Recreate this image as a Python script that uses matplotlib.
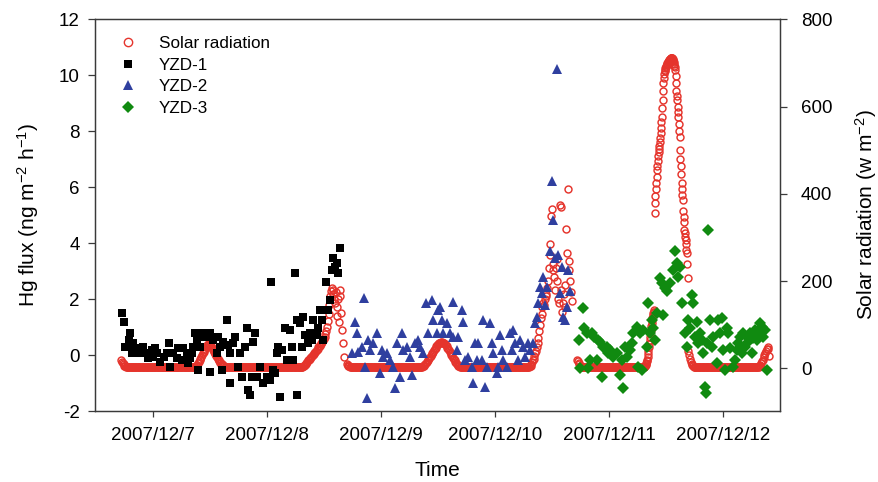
import numpy as np
import matplotlib
matplotlib.use("Agg")
import matplotlib.pyplot as plt
from matplotlib.lines import Line2D

plt.rcParams['font.family'] = ['Liberation Sans', 'DejaVu Sans']
plt.rcParams['mathtext.fontset'] = 'custom'
plt.rcParams['mathtext.rm'] = 'Liberation Sans'
plt.rcParams['mathtext.it'] = 'Liberation Sans:italic'
plt.rcParams['mathtext.bf'] = 'Liberation Sans:bold'
plt.rcParams['mathtext.default'] = 'regular'
plt.rcParams['axes.unicode_minus'] = False

# ---------------- data (time in days after 2007/12/7 00:00) ----------------
date_labels = ["2007/12/7", "2007/12/8", "2007/12/9", "2007/12/10", "2007/12/11", "2007/12/12"]

# Solar radiation (W m-2): measured segments = start day, sampling interval (min), values
sr_a_start, sr_a_step = -0.28, 10
sr_a = [18, 15, 12, 9, 6, 5, 4, 4,
        4, 4, 4, 4, 4, 4, 4, 4, 4, 4, 4, 4, 4, 4, 4, 4, 4, 4, 4, 4,
        4, 4, 4, 4, 4, 4, 4, 4, 4, 4, 4, 4, 4, 4, 4, 4, 4, 4, 4, 4,
        4, 4, 4, 4, 4, 4, 4, 4, 4, 4, 4, 4, 4, 4, 4, 4, 4, 4, 4, 4,
        4, 4, 4, 4, 4, 4, 4, 4, 4, 4, 4, 4, 4, 4, 4, 4, 4, 4, 4, 4,
        4, 4, 4, 4, 4, 4,
        5, 6, 8, 11, 15, 18, 22, 26, 30, 34, 38, 42, 45, 48, 52, 54, 55, 55, 54, 52,
        50, 46, 42, 38, 35, 32, 28, 25, 22, 19, 16, 13, 11, 9, 7, 6, 5, 4, 4, 4,
        4, 4, 4, 4, 4, 4, 4, 4, 4, 4, 4, 4, 4, 4, 4, 4, 4, 4, 4, 4,
        4, 4, 4, 4, 4, 4, 4, 4, 4, 4, 4, 4, 4, 4, 4, 4, 4, 4, 4, 4,
        4, 4, 4, 4, 4, 4, 4, 4, 4, 4, 4, 4, 4, 4, 4, 4, 4, 4, 4, 4,
        4, 4, 4, 4, 4, 4, 4, 4, 4, 4, 4, 4, 4, 4, 4, 4, 4, 4, 4, 4,
        4, 4, 4, 4, 4, 4, 4, 4, 4, 4, 4, 4, 4, 4,
        4, 4, 5, 6, 8, 10, 13, 15, 18, 20, 22, 24, 26, 28, 30, 32, 35, 38, 40, 42,
        45, 48, 50, 52, 55, 58, 60, 64, 68, 72, 78, 85, 95, 108, 125, 145, 165, 178,
        185, 180, 170, 160, 150, 175, 140, 120, 160, 105, 180, 165, 126, 87, 57, 25]

sr_b_start, sr_b_step = 1.70, 10
sr_b = [10, 8, 6, 5, 4,
        4, 4, 4, 4, 4, 4, 4, 4, 4, 4, 4, 4, 4, 4, 4, 4, 4, 4, 4, 4,
        4, 4, 4, 4, 4, 4, 4, 4, 4, 4, 4, 4, 4, 4, 4, 4, 4, 4, 4, 4,
        4, 4, 4, 4, 4, 4, 4, 4, 4, 4, 4, 4, 4, 4, 4, 4, 4, 4, 4, 4,
        4, 4, 4, 4, 4, 4, 4, 4, 4, 4, 4, 4, 4, 4, 4, 4, 4, 4, 4, 4,
        4, 4, 4, 4, 4, 4, 4, 4, 4, 4, 4,
        5, 6, 8, 10, 12, 15, 18, 20, 23, 26, 29, 32, 35, 38, 41, 44, 47, 50, 53, 55,
        57, 58, 59, 60, 60, 59, 58, 57, 55, 53, 50, 47, 44, 41, 38, 34, 30, 27, 24, 21,
        18, 15, 12, 10, 8, 6, 5, 4,
        4, 4, 4, 4, 4, 4, 4, 4, 4, 4, 4, 4, 4, 4, 4, 4, 4, 4, 4, 4,
        4, 4, 4, 4, 4, 4, 4, 4, 4, 4, 4, 4, 4, 4, 4, 4, 4, 4, 4, 4,
        4, 4, 4, 4, 4, 4, 4, 4, 4, 4, 4, 4, 4, 4, 4, 4, 4, 4, 4, 4,
        4, 4, 4, 4, 4, 4, 4, 4, 4, 4, 4, 4, 4, 4, 4, 4, 4, 4, 4, 4,
        4, 4, 4, 4, 4, 4,
        4, 5, 6, 10, 14, 18, 22, 28, 34, 40, 48, 58, 70, 85, 100, 115, 125, 140, 150,
        145, 160, 170, 165, 185, 200, 230, 285, 260, 350, 365, 240, 225, 210, 180, 230,
        250, 200, 160, 150, 375, 370, 180, 130, 150, 170, 190, 140, 320, 265, 410, 245,
        225, 200, 175, 155]

sr_c_start, sr_c_step = 3.72, 10
sr_c = [20, 16, 12, 9, 6, 5, 4,
        4, 4, 4, 4, 4, 4, 4, 4, 4, 4, 4, 4, 4, 4, 4, 4, 4, 4, 4, 4,
        4, 4, 4, 4, 4, 4, 4, 4, 4, 4, 4, 4, 4, 4, 4, 4, 4, 4, 4, 4,
        4, 4, 4, 4, 4, 4, 4, 4, 4, 4, 4, 4, 4, 4, 4, 4, 4, 4, 4, 4,
        4, 4, 4, 4, 4, 4, 4, 4, 4, 4, 4, 4, 4, 4, 4, 4]

sr_p_start, sr_p_step = 4.30, 5
sr_p = [4, 4, 4, 4, 5, 6, 7, 9, 12, 16, 20, 26, 33, 40, 48, 56, 64, 72, 80, 88,
        96, 104, 110, 116, 122, 126, 130, 134, 128,
        356, 380, 395, 410, 425, 439, 455, 463, 475, 486, 495, 503, 509, 518, 528, 540,
        552, 565, 577, 597, 616, 635, 655, 665, 675, 682, 685, 688, 690, 693, 696, 698,
        700, 702, 703, 705, 706, 708, 709, 710, 711, 712, 712, 712, 711, 710, 708, 705,
        702, 698, 694, 692, 685, 670, 655, 636, 625, 616, 600, 588, 577, 560, 545, 530,
        501, 480, 463, 445, 425, 410, 398, 386, 360, 347, 335, 317, 310, 302, 294, 285,
        272, 264, 240, 207]

sr_d_start, sr_d_step = 4.696, 10
sr_d = [40, 30, 22, 15, 10, 7, 5, 4,
        4, 4, 4, 4, 4, 4, 4, 4, 4, 4, 4, 4, 4, 4, 4, 4, 4, 4, 4, 4,
        4, 4, 4, 4, 4, 4, 4, 4, 4, 4, 4, 4, 4, 4, 4, 4, 4, 4, 4, 4,
        4, 4, 4, 4, 4, 4, 4, 4, 4, 4, 4, 4, 4, 4, 4, 4, 4, 4, 4, 4,
        4, 4, 4, 4, 4, 4, 4, 4, 4, 4, 4, 4, 4, 4, 4, 4, 4, 4, 4, 4,
        4, 4,
        5, 8, 12, 16, 20, 25, 30, 35, 40, 44, 48, 45, 28]

# YZD-1 Hg flux (ng m-2 h-1)
yzd1_t = [-0.269, -0.254, -0.246, -0.216, -0.202, -0.187, -0.178, -0.173, -0.143, -0.114,
          -0.099, -0.085, -0.056, -0.041, -0.012, 0.003, 0.018, 0.032, 0.061, 0.091,
          0.120, 0.135, 0.149, 0.178, 0.208, 0.222, 0.251, 0.266, 0.295, 0.310,
          0.325, 0.339, 0.354, 0.368, 0.383, 0.398, 0.412, 0.427, 0.456, 0.471,
          0.500, 0.500, 0.529, 0.558, 0.573, 0.588, 0.602, 0.617, 0.646, 0.661,
          0.675, 0.675, 0.705, 0.719, 0.749, 0.763, 0.778, 0.807, 0.822, 0.836,
          0.851, 0.865, 0.880, 0.895, 0.909, 0.939, 0.968, 0.997, 1.026, 1.032,
          1.056, 1.070, 1.085, 1.099, 1.114, 1.129, 1.158, 1.173, 1.202, 1.216,
          1.231, 1.246, 1.260, 1.260, 1.289, 1.304, 1.319, 1.333, 1.363, 1.377,
          1.392, 1.406, 1.421, 1.436, 1.450, 1.465, 1.480, 1.494, 1.509, 1.518,
          1.538, 1.553, 1.567, 1.582, 1.596, 1.611, 1.626, 1.640]
yzd1_v = [1.49, 1.19, 0.30, 0.54, 0.78, 0.06, 0.42, 0.18, 0.24, 0.06,
          0.24, 0.30, 0.06, -0.12, 0.18, -0.06, 0.24, 0.06, -0.24, -0.06,
          0.06, 0.42, -0.42, 0.06, -0.12, 0.24, -0.18, 0.24, 0.06, -0.30,
          -0.12, 0.06, 0.30, 0.78, 0.54, -0.54, 0.30, 0.78, 0.66, 0.78,
          0.78, -0.60, 0.54, 0.06, 0.66, 0.30, -0.54, 0.48, 1.25, 0.36,
          0.06, -1.01, 0.42, 0.66, -0.42, 0.06, -0.78, 0.30, 0.95, -1.25,
          -1.43, -0.78, 0.48, 0.78, -0.78, -0.42, -1.01, -0.78, -0.89, 2.62,
          -0.54, -0.66, 0.06, 0.30, -1.49, 0.18, 0.95, -0.18, 0.89, 0.30,
          -0.18, 2.92, -1.43, 1.25, 1.13, 0.30, 1.37, 0.72, 0.42, 0.78,
          0.54, 1.25, 0.72, 0.78, 0.95, 1.61, 1.25, 0.54, 1.61, 2.62,
          1.61, 1.97, 3.04, 3.46, 3.16, 3.28, 2.92, 3.82]

# YZD-2 Hg flux
yzd2_t = [1.743, 1.772, 1.787, 1.801, 1.830, 1.851, 1.860, 1.874, 1.889, 1.904,
          1.933, 1.962, 1.991, 2.006, 2.020, 2.050, 2.079, 2.108, 2.123, 2.137,
          2.167, 2.181, 2.196, 2.225, 2.254, 2.269, 2.298, 2.327, 2.342, 2.371,
          2.395, 2.415, 2.444, 2.459, 2.488, 2.503, 2.518, 2.532, 2.547, 2.576,
          2.605, 2.635, 2.635, 2.664, 2.678, 2.708, 2.722, 2.737, 2.766, 2.795,
          2.810, 2.825, 2.839, 2.854, 2.883, 2.898, 2.912, 2.927, 2.956, 2.971,
          2.985, 3.015, 3.029, 3.044, 3.058, 3.073, 3.102, 3.132, 3.146, 3.161,
          3.175, 3.205, 3.219, 3.249, 3.263, 3.292, 3.307, 3.336, 3.351, 3.365,
          3.380, 3.395, 3.409, 3.424, 3.439, 3.453, 3.482, 3.497, 3.512, 3.526,
          3.541, 3.556, 3.570, 3.585, 3.599, 3.614, 3.629, 3.643, 3.658]
yzd2_v = [0.06, 1.19, 0.78, 0.12, 0.30, 2.03, -0.42, -1.55, 0.54, 0.18,
          0.42, 0.78, -0.66, 0.18, -0.06, 0.06, -0.18, -0.42, -1.19, 0.42,
          -0.78, 0.78, 0.18, 0.30, -0.06, -0.72, 0.42, 0.54, 0.30, 0.06,
          1.85, 0.78, 1.97, 1.25, 0.78, 1.61, 1.73, 1.25, 0.78, 1.13,
          0.78, 0.66, 1.91, 0.18, 0.66, 1.61, 1.19, -0.18, -0.06, -0.42,
          -1.01, 0.42, -0.18, 0.42, -0.18, 1.25, -1.13, -0.42, 1.13, 0.42,
          0.06, -0.66, -0.42, 0.72, 0.18, -0.18, -0.42, 0.78, 0.18, 0.89,
          0.42, -0.18, 0.54, 0.30, -0.06, 0.42, 0.18, 0.42, 1.13, 1.37,
          1.85, 2.44, 2.21, 2.80, 1.79, 2.44, 3.70, 6.20, 4.83, 3.46,
          10.20, 3.58, 2.21, 3.16, 1.37, 1.25, 1.73, 3.04, 2.27]

# YZD-3 Hg flux
yzd3_t = [3.740, 3.746, 3.775, 3.781, 3.804, 3.819, 3.833, 3.848, 3.868, 3.892,
          3.906, 3.921, 3.936, 3.950, 3.980, 3.994, 4.009, 4.038, 4.067, 4.096,
          4.111, 4.126, 4.140, 4.155, 4.184, 4.199, 4.213, 4.243, 4.257, 4.272,
          4.287, 4.301, 4.330, 4.345, 4.360, 4.374, 4.389, 4.404, 4.418, 4.447,
          4.462, 4.477, 4.491, 4.506, 4.535, 4.564, 4.579, 4.594, 4.608, 4.623,
          4.637, 4.667, 4.681, 4.696, 4.711, 4.725, 4.740, 4.754, 4.769, 4.784,
          4.798, 4.813, 4.827, 4.842, 4.851, 4.857, 4.871, 4.886, 4.900, 4.915,
          4.944, 4.959, 4.974, 4.988, 5.003, 5.018, 5.032, 5.047, 5.061, 5.091,
          5.105, 5.120, 5.135, 5.149, 5.164, 5.178, 5.193, 5.208, 5.222, 5.237,
          5.252, 5.266, 5.281, 5.295, 5.310, 5.325, 5.339, 5.354, 5.368, 5.383]
yzd3_v = [0.54, -0.48, 1.67, 0.95, 0.78, -0.48, -0.18, 0.78, 0.66, -0.18,
          0.54, 0.48, -0.78, 0.30, 0.30, 0.06, 0.18, -0.06, 0.06, -0.72,
          -0.18, -1.19, 0.30, -0.06, 0.18, 0.42, 0.78, 1.01, -0.42, 0.78,
          -0.54, 0.89, 0.30, 1.85, 0.78, 1.25, 0.95, 0.54, 1.49, 2.74,
          2.56, 1.43, 2.39, 2.27, 2.56, 3.04, 3.70, 3.28, 2.80, 3.16,
          1.85, 0.78, 0.30, 1.25, 0.95, 2.15, 1.85, 0.66, 1.19, 0.42,
          0.78, 0.54, 0.06, -1.13, -1.37, 0.42, 4.47, 1.25, 0.30, 0.66,
          -0.30, 1.25, 0.78, 1.31, 0.18, -0.54, 0.95, 0.78, 0.24, -0.42,
          -0.18, 0.18, 0.42, 0.66, 0.06, 0.78, 0.30, 0.66, 0.48, 0.78,
          0.06, 0.60, 0.89, 0.54, 0.78, 1.13, 1.01, 0.66, 0.89, -0.54]

sr_segments = [(sr_a_start, sr_a_step, sr_a), (sr_b_start, sr_b_step, sr_b),
               (sr_c_start, sr_c_step, sr_c), (sr_p_start, sr_p_step, sr_p),
               (sr_d_start, sr_d_step, sr_d)]

# ---------------- styles ----------------
RED = '#e5342c'
BLUE = '#2f3f9f'
GREEN = '#108a10'
SPINE = '#3a3a3a'
TICKFS = 13.5

fig = plt.figure(figsize=(8.79, 4.82), dpi=100)
ax = fig.add_axes([95 / 879, 1 - 411 / 482, 685 / 879, 392 / 482])
ax2 = ax.twinx()
ax.set_zorder(ax2.get_zorder() + 1)
ax.patch.set_visible(False)

for start, step, vals in sr_segments:
    t = start + np.arange(len(vals)) * step / 1440.0
    ax2.plot(t, vals, linestyle='none', marker='o', ms=5.0, mfc='none',
             mec=RED, mew=1.05)

ax.plot(yzd1_t, yzd1_v, linestyle='none', marker='s', ms=6.0, color='black', mew=0)
ax.plot(yzd2_t, yzd2_v, linestyle='none', marker='^', ms=7.6, color=BLUE, mew=0)
ax.plot(yzd3_t, yzd3_v, linestyle='none', marker='D', ms=6.0, color=GREEN, mew=0)

ax.set_xlim(-0.51, 5.5)
ax.set_ylim(-2, 12)
ax2.set_ylim(-98, 801)

ax.set_xticks(range(len(date_labels)))
ax.set_xticklabels(date_labels)
ax.set_yticks(np.arange(-2, 13, 2))
ax2.set_yticks(np.arange(0, 801, 200))

for a in (ax, ax2):
    for s in a.spines.values():
        s.set_color(SPINE)
        s.set_linewidth(0.9)

ax.tick_params(axis='x', direction='out', length=4.5, width=0.9, color=SPINE,
               labelsize=TICKFS, pad=7, top=False)
ax.tick_params(axis='y', direction='out', length=5, width=0.9, color=SPINE,
               labelsize=TICKFS, pad=6)
ax2.tick_params(axis='y', direction='out', length=5, width=0.9, color=SPINE,
                labelsize=TICKFS, pad=10)

ax.set_xlabel('Time', fontsize=15, labelpad=12)
ax.set_ylabel('Hg flux (ng m$^{-2}$ h$^{-1}$)', fontsize=15, labelpad=13)
ax2.set_ylabel('Solar radiation (w m$^{-2}$)', fontsize=15, labelpad=15)

handles = [
    Line2D([], [], linestyle='none', marker='o', ms=6, mfc='none', mec=RED, mew=1.0),
    Line2D([], [], linestyle='none', marker='s', ms=6.0, color='black', mew=0),
    Line2D([], [], linestyle='none', marker='^', ms=7.6, color=BLUE, mew=0),
    Line2D([], [], linestyle='none', marker='D', ms=6.0, color=GREEN, mew=0),
]
labels = ['Solar radiation', 'YZD-1', 'YZD-2', 'YZD-3']
ax.legend(handles, labels, loc='upper left', bbox_to_anchor=(0.036, 0.956),
          frameon=False, fontsize=12.3, handlelength=1.0, handletextpad=1.3,
          labelspacing=0.38, borderpad=0, borderaxespad=0)

fig.savefig('out.png', dpi=100)
